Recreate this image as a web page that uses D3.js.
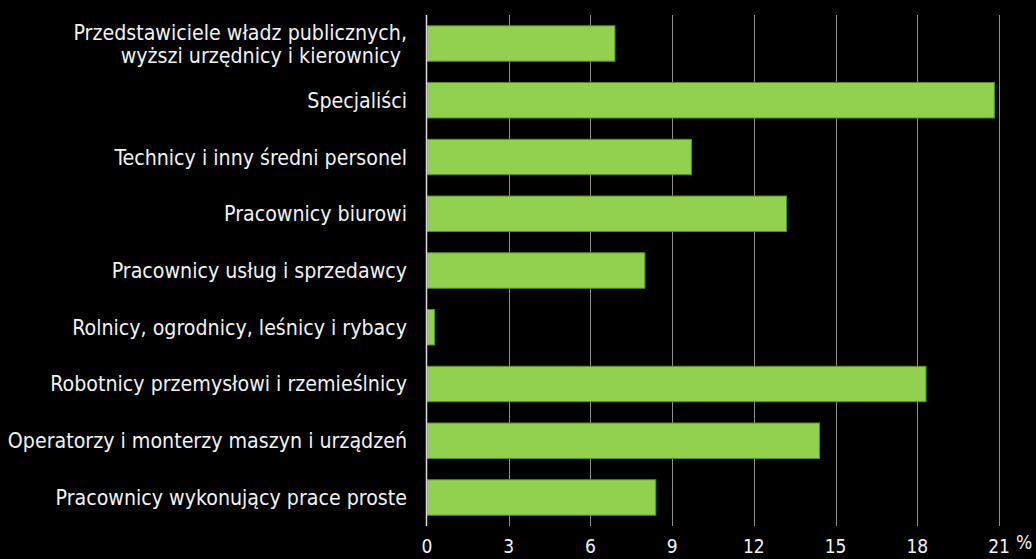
<!DOCTYPE html>
<html>
<head>
<meta charset="utf-8">
<script src="https://d3js.org/d3.v7.min.js"></script>
<style>
    body { margin: 0; background: #000; }
    svg { display: block; }
    .label { fill: #f2f2f2; font-family: "DejaVu Sans", sans-serif; font-stretch: condensed; font-size: 21.2px; }
    .tick-label { fill: #f2f2f2; font-family: "DejaVu Sans", sans-serif; font-stretch: condensed; font-size: 19px; }
</style>
</head>
<body>
<div id="chart"></div>
<script>

// Categories (top to bottom), multi-line labels split into lines
var categories = [
    ["Przedstawiciele władz publicznych,", "wyższi urzędnicy i kierownicy "],
    ["Specjaliści"],
    ["Technicy i inny średni personel"],
    ["Pracownicy biurowi"],
    ["Pracownicy usług i sprzedawcy"],
    ["Rolnicy, ogrodnicy, leśnicy i rybacy"],
    ["Robotnicy przemysłowi i rzemieślnicy"],
    ["Operatorzy i monterzy maszyn i urządzeń"],
    ["Pracownicy wykonujący prace proste"]
];

// Share in %
var values = [6.9, 20.83, 9.71, 13.2, 8.0, 0.28, 18.32, 14.41, 8.4];

// x axis ticks
var tickValues = [0, 3, 6, 9, 12, 15, 18, 21];


BarChart = function(_parentElement){
    this.parentElement = _parentElement;
    this.data = values.map(function(v, i) { return { key: i, lines: categories[i], value: v }; });
    this.initVis();
}

BarChart.prototype.initVis = function(){
    var vis = this;

    vis.margin = { top: 15, right: 37, bottom: 33, left: 427 };
    vis.width = 1036 - vis.margin.left - vis.margin.right;
    vis.height = 559 - vis.margin.top - vis.margin.bottom;

    vis.svg = d3.select("#" + vis.parentElement).append("svg")
        .attr("width", 1036)
        .attr("height", 559)
      .append("g")
        .attr("transform", "translate(" + vis.margin.left + "," + vis.margin.top + ")");

    // Scales
    vis.x = d3.scaleLinear()
        .domain([0, 21])
        .range([0, vis.width]);

    vis.y = d3.scaleBand()
        .domain(vis.data.map(function(d) { return d.key; }))
        .range([0, vis.height])
        .paddingInner(0.375)
        .paddingOuter(0.19);

    // Gridlines
    vis.svg.selectAll(".grid")
        .data(tickValues.filter(function(d) { return d > 0; }))
        .enter().append("line")
        .attr("class", "grid")
        .attr("x1", function(d) { return Math.round(vis.x(d)) + 0.5; })
        .attr("x2", function(d) { return Math.round(vis.x(d)) + 0.5; })
        .attr("y1", 0)
        .attr("y2", vis.height)
        .attr("stroke", "#8c8c8c")
        .attr("stroke-width", 1);

    // Bars
    vis.svg.selectAll(".bar")
        .data(vis.data)
        .enter().append("rect")
        .attr("class", "bar")
        .attr("x", vis.x(0))
        .attr("y", function(d) { return vis.y(d.key); })
        .attr("width", function(d) { return vis.x(d.value) - vis.x(0); })
        .attr("height", vis.y.bandwidth())
        .attr("fill", "#92d050")
        .attr("stroke", "#5b8a2f")
        .attr("stroke-width", 1);

    // Zero line
    vis.svg.append("line")
        .attr("x1", vis.x(0) - 0.5)
        .attr("x2", vis.x(0) - 0.5)
        .attr("y1", 0)
        .attr("y2", vis.height)
        .attr("stroke", "#d9d9d9")
        .attr("stroke-width", 1.5);

    // Category labels
    var labels = vis.svg.selectAll(".label")
        .data(vis.data)
        .enter().append("text")
        .attr("class", "label")
        .attr("text-anchor", "end")
        .style("white-space", "pre")
        .attr("y", function(d) { return vis.y(d.key) + vis.y.bandwidth() / 2; });

    labels.selectAll("tspan")
        .data(function(d) {
            var n = d.lines.length;
            return d.lines.map(function(l, i) { return { text: l, dy: (i - (n - 1) / 2) * 23 }; });
        })
        .enter().append("tspan")
        .attr("x", -20)
        .attr("dy", function(d, i) { return i == 0 ? (d.dy + 7.5) : 23; })
        .text(function(d) { return d.text; });

    // Tick labels
    vis.svg.selectAll(".tick-label")
        .data(tickValues)
        .enter().append("text")
        .attr("class", "tick-label")
        .attr("text-anchor", "middle")
        .attr("x", function(d) { return vis.x(d); })
        .attr("y", vis.height + 27)
        .text(function(d) { return d; });

    vis.svg.append("text")
        .attr("class", "tick-label")
        .attr("x", vis.x(21) + 17)
        .attr("y", vis.height + 23)
        .text("%");
}

var chart = new BarChart("chart");

</script>
</body>
</html>
